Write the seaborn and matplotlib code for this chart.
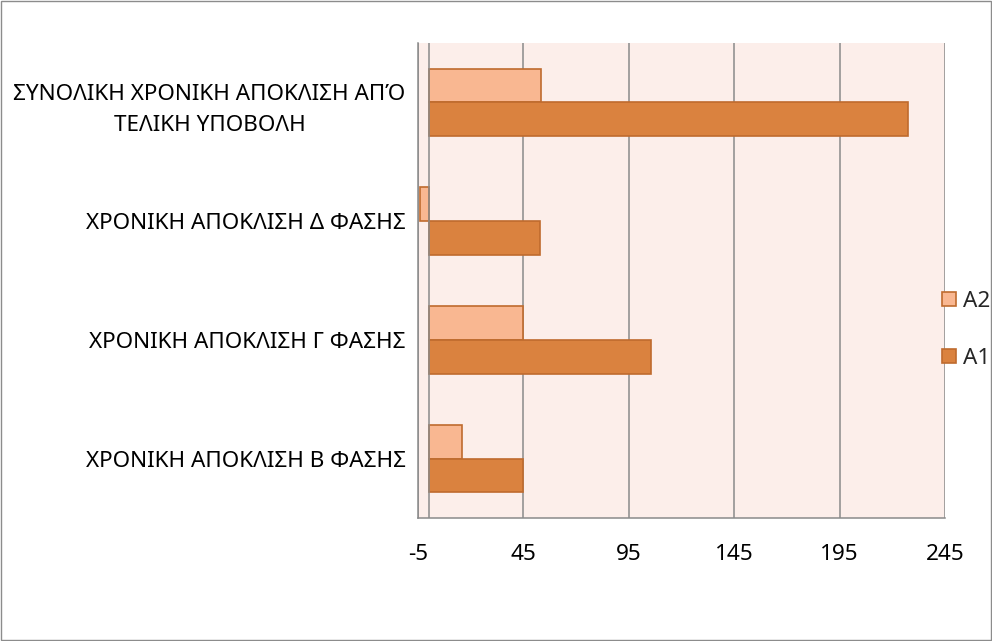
import matplotlib
matplotlib.use("Agg")
import matplotlib.pyplot as plt
import matplotlib.patches as mpatches
import seaborn as sns
import pandas as pd

categories = [
    "ΣΥΝΟΛΙΚΗ ΧΡΟΝΙΚΗ ΑΠΟΚΛΙΣΗ ΑΠΌ\nΤΕΛΙΚΗ ΥΠΟΒΟΛΗ",
    "ΧΡΟΝΙΚΗ ΑΠΟΚΛΙΣΗ Δ ΦΑΣΗΣ",
    "ΧΡΟΝΙΚΗ ΑΠΟΚΛΙΣΗ Γ ΦΑΣΗΣ",
    "ΧΡΟΝΙΚΗ ΑΠΟΚΛΙΣΗ Β ΦΑΣΗΣ",
]
series_names = ["A2", "A1"]
a2_values = [53.5, -4, 45, 16]
a1_values = [227.5, 53, 105.5, 45]
x_ticks = [-5, 45, 95, 145, 195, 245]

colors = {"A2": "#F9B791", "A1": "#DA823F"}
edge = "#BF6B2E"
grey = "#8A8A8A"

sns.set_style("white")
plt.rcParams["font.family"] = ["Noto Sans", "DejaVu Sans"]
FS = 16.2

df = pd.DataFrame({
    "category": categories * 2,
    "series": ["A2"] * 4 + ["A1"] * 4,
    "value": a2_values + a1_values,
})

fig = plt.figure(figsize=(9.92, 6.41), dpi=100)
fig.patch.set_facecolor("white")
fig.patches.append(mpatches.Rectangle((0.001, 0.001), 0.998, 0.997, transform=fig.transFigure,
                                      fill=False, edgecolor="#8C8C8C", linewidth=1.0))
ax = fig.add_axes([418 / 992, 123 / 641, 527 / 992, 475 / 641])
ax.set_facecolor("#FCEEEA")

sns.barplot(data=df, y="category", x="value", hue="series", hue_order=series_names,
            order=categories, orient="h", width=0.57, palette=colors, saturation=1,
            edgecolor=edge, linewidth=1.2, legend=False, ax=ax)

ax.set_xlim(x_ticks[0], x_ticks[-1])
ax.set_ylim(3.5, -0.5)
ax.set_xticks(x_ticks)
ax.set_xticklabels([str(t) for t in x_ticks])
ax.xaxis.grid(True, color=grey, linewidth=1.1)
ax.yaxis.grid(False)
ax.set_axisbelow(True)
ax.axvline(0, color=grey, linewidth=1.1, zorder=1)

for s in ["top", "right"]:
    ax.spines[s].set_visible(False)
for s in ["left", "bottom"]:
    ax.spines[s].set_color(grey)
    ax.spines[s].set_linewidth(1.1)

ax.set_xlabel("")
ax.set_ylabel("")
ax.tick_params(axis="x", direction="out", length=5, width=1.1, color=grey,
               pad=14, labelsize=FS, labelcolor="black")
ax.tick_params(axis="y", which="major", length=0, pad=9, labelsize=FS, labelcolor="black")
ax.set_yticks([-0.5, 0.5, 1.5, 2.5, 3.5], minor=True)
ax.tick_params(axis="y", which="minor", direction="in", length=7.9, width=1.1, color=grey)
for lbl in ax.get_yticklabels():
    lbl.set_multialignment("center")
    lbl.set_linespacing(1.65)

handles = [mpatches.Patch(facecolor=colors[n], edgecolor=edge, linewidth=1.2, label=n)
           for n in series_names]
fig.legend(handles=handles, loc="center left", bbox_to_anchor=(942 / 992, 1 - 330 / 641),
           frameon=False, fontsize=FS, handlelength=0.62, handleheight=0.62,
           handletextpad=0.3, labelspacing=1.6, borderaxespad=0, borderpad=0)

fig.savefig("out.png", dpi=100)
